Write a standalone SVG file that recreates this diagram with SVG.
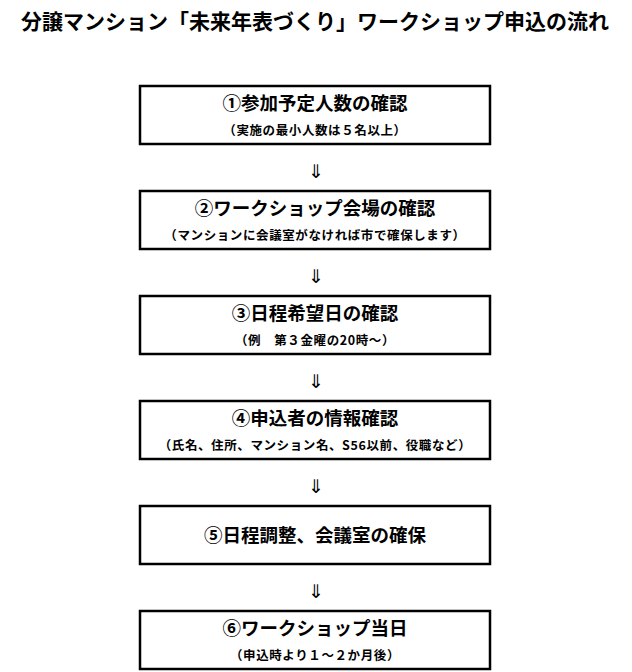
<svg xmlns="http://www.w3.org/2000/svg" width="632" height="672" viewBox="0 0 632 672">
<style>
text{font-family:"Noto Sans CJK JP","Noto Sans CJK SC",sans-serif;font-weight:bold;fill:#000;text-anchor:middle}
.title{font-size:21px}
.main{font-size:18.5px}
.sub{font-size:12.5px;letter-spacing:0.6px}
.arr{font-family:"DejaVu Sans",sans-serif;font-weight:normal;font-size:19px}
rect{fill:#fff;stroke:#000;stroke-width:2.5}
</style>
<rect x="0" y="0" width="632" height="672" style="stroke:none"/>
<text class="title" x="315" y="29">分譲マンション「未来年表づくり」ワークショップ申込の流れ</text>
<g id="node1"><rect x="140" y="86" width="350" height="58"/><text class="main" x="315" y="110">①参加予定人数の確認</text><text class="sub" x="315" y="135">（実施の最小人数は５名以上）</text></g>
<g id="node2"><rect x="140" y="191" width="350" height="58"/><text class="main" x="315" y="215">②ワークショップ会場の確認</text><text class="sub" x="315" y="240">（マンションに会議室がなければ市で確保します）</text></g>
<g id="node3"><rect x="140" y="296" width="350" height="58"/><text class="main" x="315" y="320">③日程希望日の確認</text><text class="sub" x="315" y="345">（例　第３金曜の20時～）</text></g>
<g id="node4"><rect x="140" y="401" width="350" height="58"/><text class="main" x="315" y="425">④申込者の情報確認</text><text class="sub" x="315" y="450">（氏名、住所、マンション名、S56以前、役職など）</text></g>
<g id="node5"><rect x="140" y="506" width="350" height="58"/><text class="main" x="315" y="542">⑤日程調整、会議室の確保</text></g>
<g id="node6"><rect x="140" y="611" width="350" height="58"/><text class="main" x="315" y="635">⑥ワークショップ当日</text><text class="sub" x="315" y="660">（申込時より１～２か月後）</text></g>
<g id="connectors">
<text class="arr" x="316" y="178">⇓</text>
<text class="arr" x="316" y="283">⇓</text>
<text class="arr" x="316" y="388">⇓</text>
<text class="arr" x="316" y="493">⇓</text>
<text class="arr" x="316" y="598">⇓</text>
</g>
</svg>
